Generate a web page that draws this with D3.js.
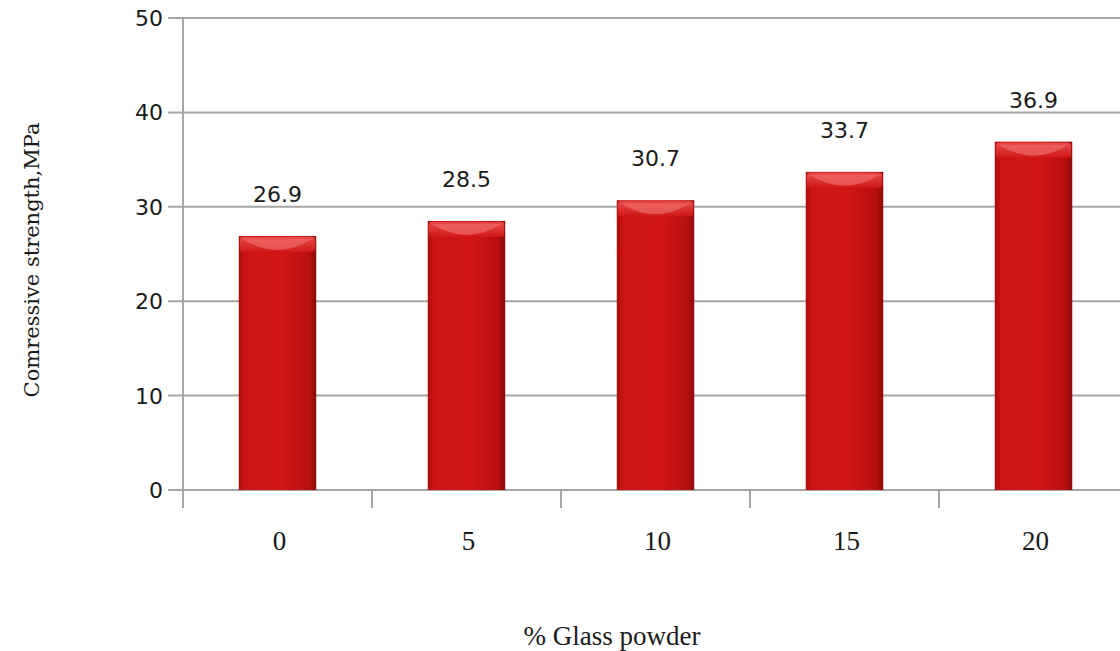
<!DOCTYPE html>
<html>
<head>
<meta charset="utf-8">
<script src="https://cdn.jsdelivr.net/npm/d3@7"></script>
<style>
  body { margin: 0; background: #fff; }
  svg { display: block; }
</style>
</head>
<body>
<div id="chart"></div>
<script>
const categories = ["0", "5", "10", "15", "20"];
const strength = [26.9, 28.5, 30.7, 33.7, 36.9];
const yTicks = [0, 10, 20, 30, 40, 50];

const W = 1120, H = 651;
const margin = {top: 18, left: 183, bottom: 161};
const plotBottom = H - margin.bottom;
const step = 189;

const svg = d3.select("#chart").append("svg")
    .attr("width", W)
    .attr("height", H);

const defs = svg.append("defs");

const body = defs.append("linearGradient").attr("id", "barBody")
    .attr("x1", "0%").attr("x2", "100%").attr("y1", "0%").attr("y2", "0%");
body.append("stop").attr("offset", "0%").attr("stop-color", "#a80d0d");
body.append("stop").attr("offset", "8%").attr("stop-color", "#cc1414");
body.append("stop").attr("offset", "55%").attr("stop-color", "#d21616");
body.append("stop").attr("offset", "90%").attr("stop-color", "#b80f0f");
body.append("stop").attr("offset", "100%").attr("stop-color", "#8e0a0a");

const cap = defs.append("linearGradient").attr("id", "barCap")
    .attr("x1", "0%").attr("x2", "0%").attr("y1", "0%").attr("y2", "100%");
cap.append("stop").attr("offset", "0%").attr("stop-color", "#e84a4a");
cap.append("stop").attr("offset", "100%").attr("stop-color", "#d01818");

const x = d3.scaleBand()
    .domain(categories)
    .range([margin.left, margin.left + step * categories.length])
    .paddingInner(0.59)
    .paddingOuter(0.295);

const y = d3.scaleLinear()
    .domain([0, 50])
    .range([plotBottom, margin.top]);

// gridlines, with small ticks left of the axis
svg.append("g")
    .selectAll("line")
    .data(yTicks)
  .enter().append("line")
    .attr("x1", margin.left - 15)
    .attr("x2", W)
    .attr("y1", d => y(d))
    .attr("y2", d => y(d))
    .attr("stroke", "#a6a6a6")
    .attr("stroke-width", 2);

// y axis line
svg.append("line")
    .attr("x1", margin.left).attr("x2", margin.left)
    .attr("y1", margin.top).attr("y2", plotBottom + 18)
    .attr("stroke", "#a6a6a6")
    .attr("stroke-width", 2);

// x ticks at category boundaries
svg.append("g")
    .selectAll("line")
    .data(categories)
  .enter().append("line")
    .attr("x1", d => x(d) + x.bandwidth() / 2 - x.step() / 2)
    .attr("x2", d => x(d) + x.bandwidth() / 2 - x.step() / 2)
    .attr("y1", plotBottom)
    .attr("y2", plotBottom + 18)
    .attr("stroke", "#a6a6a6")
    .attr("stroke-width", 2);

// y tick labels
svg.append("g")
    .selectAll("text")
    .data(yTicks)
  .enter().append("text")
    .attr("x", margin.left - 20)
    .attr("y", d => y(d))
    .attr("dy", "0.36em")
    .attr("text-anchor", "end")
    .style("font-family", "DejaVu Sans, sans-serif")
    .style("font-size", "22px")
    .style("fill", "#1a1a1a")
    .text(d => d);

// bars
const bars = svg.append("g")
    .selectAll("g")
    .data(strength)
  .enter().append("g");

bars.append("rect")
    .attr("x", (d, i) => x(categories[i]))
    .attr("y", d => y(d))
    .attr("width", x.bandwidth())
    .attr("height", d => plotBottom - y(d))
    .attr("fill", "url(#barBody)");

bars.append("rect")
    .attr("x", (d, i) => x(categories[i]) + 1)
    .attr("y", d => y(d) + 1)
    .attr("width", x.bandwidth() - 2)
    .attr("height", 15)
    .attr("rx", 3)
    .attr("fill", "url(#barCap)");

bars.append("path")
    .attr("d", (d, i) => {
        const x0 = x(categories[i]) + 4, x1 = x(categories[i]) + x.bandwidth() - 4;
        const yt = y(d) + 3;
        const mx = (x0 + x1) / 2;
        return `M${x0},${yt} L${x1},${yt} Q${mx},${yt + 22} ${x0},${yt} Z`;
    })
    .attr("fill", "#f06a6a")
    .attr("opacity", 0.7);

// value labels
svg.append("g")
    .selectAll("text")
    .data(strength)
  .enter().append("text")
    .attr("x", (d, i) => x(categories[i]) + x.bandwidth() / 2)
    .attr("y", d => y(d) - 34)
    .attr("text-anchor", "middle")
    .style("font-family", "DejaVu Sans, sans-serif")
    .style("font-size", "22px")
    .style("fill", "#1a1a1a")
    .text(d => d.toFixed(1));

// x tick labels
svg.append("g")
    .selectAll("text")
    .data(categories)
  .enter().append("text")
    .attr("x", d => x(d) + x.bandwidth() / 2 + 2)
    .attr("y", plotBottom + 60)
    .attr("text-anchor", "middle")
    .style("font-family", "Liberation Serif, serif")
    .style("font-size", "27px")
    .style("fill", "#1a1a1a")
    .text(d => d);

// axis titles
svg.append("text")
    .attr("x", 612)
    .attr("y", 645)
    .attr("text-anchor", "middle")
    .style("font-family", "Liberation Serif, serif")
    .style("font-size", "27px")
    .style("fill", "#1a1a1a")
    .text("% Glass powder");

svg.append("text")
    .attr("transform", "translate(39,260) rotate(-90)")
    .attr("text-anchor", "middle")
    .style("font-family", "DejaVu Serif, serif")
    .style("font-size", "21px")
    .style("fill", "#1a1a1a")
    .text("Comressive strength,MPa");
</script>
</body>
</html>
